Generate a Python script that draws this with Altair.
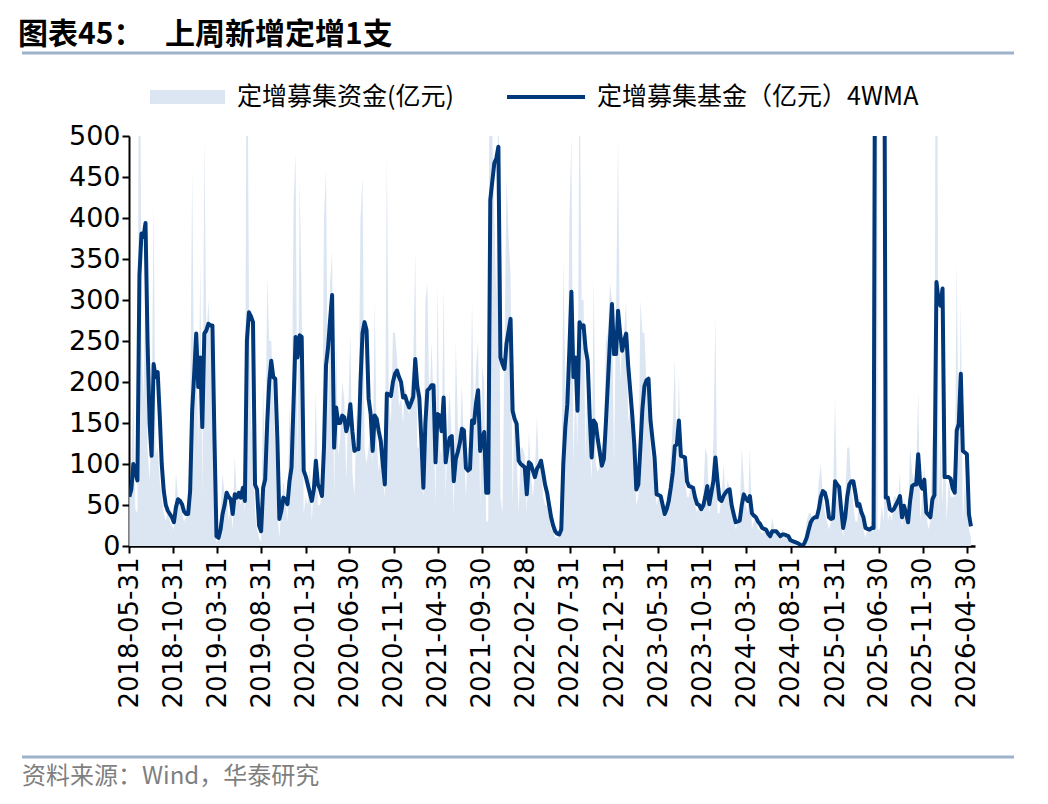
import altair as alt
import pandas as pd

# ---------------- data (weekly, first week ending 2018-06-01) ----------------
start_date = "2018-06-01"

ma4 = [
    60, 69, 100, 90, 80, 330, 381, 377, 394, 250,
    150, 110, 222, 206, 212, 160, 100, 67, 50, 43,
    39, 35, 29, 47, 57, 55, 51, 42, 39, 39,
    67, 165, 210, 259, 194, 230, 145, 259, 263, 271,
    269, 269, 130, 12, 10, 20, 39, 50, 65, 60,
    57, 39, 63, 59, 65, 59, 71, 55, 251, 285,
    280, 273, 75, 69, 25, 18, 71, 81, 150, 200,
    226, 206, 204, 132, 33, 43, 59, 57, 51, 79,
    96, 175, 255, 230, 257, 255, 92, 85, 75, 65,
    55, 69, 104, 75, 70, 61, 120, 220, 242, 275,
    306, 120, 169, 150, 150, 159, 157, 140, 150, 173,
    140, 116, 118, 118, 200, 260, 273, 263, 180, 161,
    116, 159, 155, 140, 128, 100, 75, 186, 185, 183,
    200, 210, 214, 206, 200, 181, 183, 175, 169, 175,
    182, 228, 195, 181, 130, 71, 150, 190, 192, 196,
    196, 102, 161, 159, 140, 181, 102, 120, 132, 134,
    79, 106, 115, 126, 143, 141, 95, 92, 94, 153,
    150, 175, 190, 116, 130, 139, 65, 65, 422, 445,
    467, 473, 487, 230, 222, 216, 247, 262, 277, 165,
    155, 149, 104, 100, 98, 96, 63, 102, 100, 92,
    84, 94, 98, 104, 90, 75, 65, 50, 35, 25,
    18, 15, 14, 20, 100, 145, 173, 240, 310, 206,
    230, 165, 273, 267, 269, 240, 226, 160, 108, 153,
    149, 130, 114, 98, 106, 150, 200, 250, 295, 234,
    234, 287, 260, 238, 250, 259, 220, 190, 160, 124,
    69, 75, 120, 167, 195, 202, 204, 153, 130, 108,
    63, 62, 61, 50, 39, 45, 55, 71, 90, 122,
    124, 153, 110, 109, 108, 79, 73, 72, 71, 59,
    51, 50, 45, 49, 60, 73, 51, 65, 79, 108,
    80, 57, 55, 61, 65, 68, 69, 50, 39, 29,
    30, 31, 50, 63, 58, 55, 61, 40, 37, 35,
    30, 27, 22, 21, 20, 15, 12, 18, 18, 18,
    15, 12, 14, 14, 13, 12, 7, 6, 5, 4,
    3, 1, 0, 4, 10, 20, 29, 33, 35, 35,
    45, 60, 67, 65, 55, 35, 33, 34, 79, 75,
    72, 45, 22, 35, 60, 75, 79, 79, 65, 49,
    51, 41, 35, 22, 21, 20, 22, 22, 900, 900,
    900, 900, 900, 59, 59, 45, 43, 45, 50, 55,
    61, 35, 49, 40, 29, 55, 73, 75, 75, 112,
    75, 70, 81, 41, 38, 35, 57, 62, 322, 300,
    293, 314, 84, 84, 84, 82, 70, 65, 141, 149,
    210, 116, 114, 112, 39, 24,
]

funds = [
    60, 95, 190, 45, 40, 900, 250, 180, 330, 120,
    80, 150, 420, 110, 120, 80, 60, 40, 30, 45,
    30, 25, 20, 90, 60, 50, 40, 30, 35, 40,
    150, 460, 180, 250, 120, 350, 60, 500, 250, 300,
    250, 200, 30, 5, 8, 40, 90, 60, 70, 30,
    50, 20, 110, 60, 60, 50, 80, 40, 750, 300,
    150, 120, 40, 20, 10, 5, 200, 80, 330, 250,
    250, 180, 120, 40, 10, 50, 80, 60, 30, 170,
    120, 420, 480, 80, 450, 300, 40, 60, 50, 100,
    30, 80, 190, 50, 50, 60, 400, 460, 150, 320,
    360, 60, 250, 110, 130, 200, 180, 80, 170, 260,
    90, 60, 160, 150, 400, 450, 120, 100, 120, 150,
    100, 300, 130, 90, 110, 80, 60, 480, 180, 150,
    260, 260, 230, 170, 180, 150, 200, 170, 160, 200,
    220, 360, 120, 120, 80, 60, 300, 320, 160, 250,
    180, 50, 320, 120, 110, 320, 60, 150, 190, 130,
    40, 250, 150, 120, 200, 120, 60, 120, 120, 300,
    150, 220, 250, 50, 220, 200, 30, 30, 1200, 500,
    400, 300, 600, 60, 40, 240, 450, 380, 330, 50,
    180, 110, 40, 120, 120, 110, 40, 140, 90, 60,
    90, 160, 90, 100, 60, 50, 50, 40, 20, 20,
    10, 10, 15, 40, 350, 200, 150, 400, 500, 100,
    200, 120, 600, 300, 300, 100, 240, 120, 80, 330,
    100, 90, 100, 120, 130, 250, 260, 320, 300, 100,
    280, 500, 200, 250, 260, 300, 150, 170, 160, 120,
    50, 60, 300, 260, 260, 200, 200, 120, 100, 80,
    50, 60, 50, 40, 40, 60, 70, 110, 150, 230,
    90, 210, 90, 100, 80, 60, 60, 80, 60, 50,
    40, 60, 40, 60, 120, 110, 40, 60, 130, 280,
    40, 40, 60, 100, 60, 80, 70, 50, 40, 20,
    30, 40, 120, 80, 50, 40, 120, 20, 30, 40,
    20, 20, 15, 20, 20, 10, 10, 35, 20, 15,
    10, 10, 20, 15, 10, 10, 5, 5, 5, 5,
    2, 1, 0, 10, 30, 40, 40, 30, 30, 40,
    80, 100, 60, 40, 30, 20, 30, 60, 180, 60,
    50, 30, 10, 60, 120, 120, 70, 50, 30, 30,
    60, 40, 20, 10, 20, 20, 30, 20, 3500, 20,
    20, 50, 30, 150, 30, 40, 30, 60, 60, 50,
    90, 20, 60, 30, 30, 120, 90, 80, 90, 190,
    30, 60, 100, 40, 20, 30, 140, 60, 1100, 40,
    130, 50, 150, 30, 80, 60, 60, 60, 350, 100,
    300, 30, 80, 40, 20, 10,
]

tick_dates = [
    "2018-05-31", "2018-10-31", "2019-03-31", "2019-08-31", "2020-01-31",
    "2020-06-30", "2020-11-30", "2021-04-30", "2021-09-30", "2022-02-28",
    "2022-07-31", "2022-12-31", "2023-05-31", "2023-10-31", "2024-03-31",
    "2024-08-31", "2025-01-31", "2025-06-30", "2025-11-30", "2026-04-30",
]
y_ticks = [0, 50, 100, 150, 200, 250, 300, 350, 400, 450, 500]

title_left = "图表45："
title_right = "上周新增定增1支"
legend_area = "定增募集资金(亿元)"
legend_line = "定增募集基金（亿元）4WMA"
source_text = "资料来源：Wind，华泰研究"

# ---------------- build ----------------
n = min(len(ma4), len(funds))
dates = pd.date_range(start_date, periods=n, freq="7D").strftime("%Y-%m-%d")
df = pd.DataFrame({"date": dates, "funds": funds[:n], "ma": ma4[:n]})


def dt(s):
    y, m, d = (int(p) for p in s.split("-"))
    return alt.DateTime(year=y, month=m, date=d, utc=True)


AREA_COLOR = "#DCE6F2"
LINE_COLOR = "#00387A"
NUM_FONT = "DejaVu Sans"
CJK_FONT = "Noto Sans CJK SC"

x_enc = alt.X(
    "date:T",
    scale=alt.Scale(type="utc", domain=[dt("2018-05-31"), dt("2026-05-29")]),
    axis=alt.Axis(
        values=[dt(s) for s in tick_dates],
        labelExpr="utcFormat(datum.value, '%Y-%m-%d')",
        labelAngle=-90,
        labelFont=NUM_FONT,
        labelFontSize=26,
        labelColor="black",
        labelPadding=4,
        labelOverlap=False,
        tickSize=7,
        tickWidth=2,
        tickColor="black",
        domainColor="black",
        domainWidth=2.5,
        grid=False,
        title=None,
    ),
)
y_scale = alt.Scale(domain=[0, 500], nice=False, zero=True)
y_axis = alt.Axis(
    values=y_ticks,
    labelFont=NUM_FONT,
    labelFontSize=27,
    labelColor="black",
    labelPadding=2,
    tickSize=7,
    tickWidth=2,
    tickColor="black",
    domainColor="black",
    domainWidth=2,
    grid=False,
    title=None,
)

base = alt.Chart(df)
area = base.mark_area(color=AREA_COLOR, clip=True, opacity=1).encode(
    x=x_enc, y=alt.Y("funds:Q", scale=y_scale, axis=y_axis)
)
line = base.mark_line(color=LINE_COLOR, strokeWidth=4, clip=True, strokeJoin="round").encode(
    x=x_enc, y=alt.Y("ma:Q", scale=y_scale, axis=y_axis)
)

one = pd.DataFrame({"k": [0]})


def text_mark(txt, x, y, size, color="black", bold=False, font=CJK_FONT, align="left"):
    return alt.Chart(one).mark_text(
        text=txt, align=align, baseline="middle", font=font, fontSize=size,
        fontWeight="bold" if bold else "normal", color=color,
    ).encode(x=alt.value(x), y=alt.value(y))


def hrule(x1, x2, y, color, width):
    return alt.Chart(one).mark_rule(color=color, strokeWidth=width).encode(
        x=alt.value(x1), x2=alt.value(x2), y=alt.value(y)
    )


# plot area origin is at page (129, 136)
title1 = text_mark(title_left, -111, -101, 30, bold=True)
title2 = text_mark(title_right, 36, -101, 30, bold=True)
top_rule = hrule(-107, 885, -83, "#9DB3CC", 3)

leg_rect = alt.Chart(one).mark_rect(color=AREA_COLOR).encode(
    x=alt.value(21), x2=alt.value(96), y=alt.value(-46), y2=alt.value(-32)
)
leg_text1 = text_mark(legend_area, 108, -39, 25)
leg_line = hrule(378, 456, -39, LINE_COLOR, 4)
leg_text2 = text_mark(legend_line, 468, -39, 25)

bottom_rule = hrule(-107, 885, 621, "#9DB3CC", 3)
src = text_mark(source_text, -107, 641, 24, color="#7F7F7F")

chart = alt.layer(
    area, line,
    title1, title2, top_rule,
    leg_rect, leg_text1, leg_line, leg_text2,
    bottom_rule, src,
).properties(
    width=846,
    height=410,
    autosize=alt.AutoSizeParams(type="none"),
    padding={"left": 129, "top": 136, "right": 73, "bottom": 258},
    background="white",
).configure_view(stroke=None)

chart.save("out.html", embed_options={"renderer": "svg", "actions": False})
